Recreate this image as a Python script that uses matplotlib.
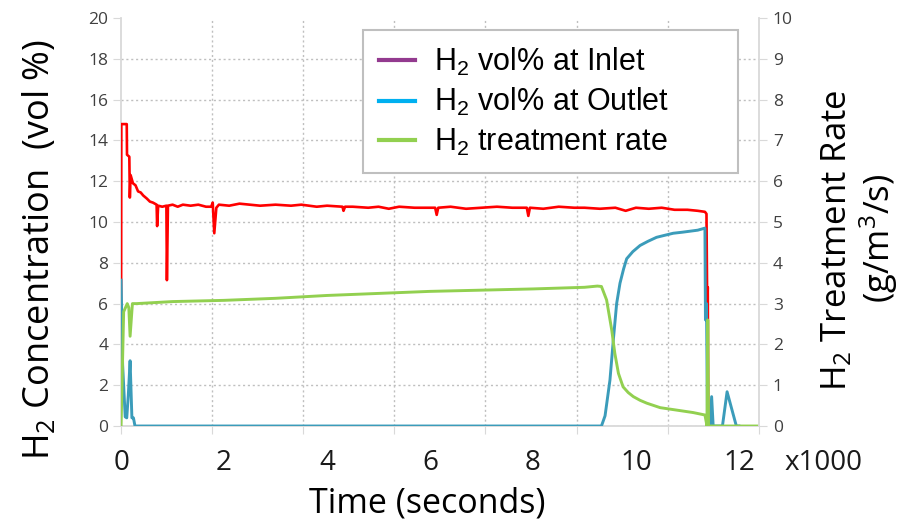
import numpy as np
import matplotlib
matplotlib.use('Agg')
import matplotlib.pyplot as plt
import matplotlib.transforms as mtransforms
from matplotlib.lines import Line2D

plt.rcParams['font.family'] = ['Open Sans', 'DejaVu Sans']
plt.rcParams['mathtext.default'] = 'regular'

# H2 at inlet (vol %), time in seconds
inlet_t = [0, 0, 5, 110, 115, 160, 170, 185, 230, 280, 330, 380, 430, 500, 560,
           620, 690, 700, 720, 800, 880, 890, 910, 1000, 1100, 1200, 1350, 1500,
           1650, 1750, 1780, 1810, 1850, 1900, 2100, 2300, 2500, 2700, 3000,
           3300, 3500, 3800, 4000, 4300, 4320, 4350, 4500, 4800, 5000, 5200,
           5400, 5700, 6100, 6130, 6160, 6400, 6700, 7000, 7300, 7600, 7880,
           7910, 7940, 8200, 8500, 8800, 9000, 9300, 9600, 9800, 10000, 10250,
           10500, 10750, 11000, 11200, 11340, 11370, 11385, 11395, 11405, 11420]
inlet_v = [4.6, 4.6, 14.8, 14.8, 13.3, 13.2, 11.2, 12.3, 11.9, 11.8, 11.5, 11.45,
           11.3, 11.15, 11.0, 10.95, 10.85, 9.8, 10.8, 10.75, 10.8, 7.15, 10.8,
           10.85, 10.75, 10.85, 10.8, 10.85, 10.75, 10.75, 10.95, 9.45, 10.7,
           10.85, 10.8, 10.9, 10.85, 10.8, 10.85, 10.8, 10.85, 10.75, 10.8,
           10.75, 10.55, 10.75, 10.75, 10.7, 10.75, 10.65, 10.75, 10.7, 10.7,
           10.35, 10.7, 10.75, 10.65, 10.7, 10.75, 10.7, 10.7, 10.3, 10.7, 10.65,
           10.75, 10.7, 10.7, 10.65, 10.7, 10.55, 10.7, 10.65, 10.7, 10.6, 10.6,
           10.55, 10.5, 10.4, 5.5, 6.8, 0, 0]

# H2 at outlet (vol %)
outlet_t = [0, 30, 80, 110, 140, 175, 210, 240, 270, 9330, 9400, 9495, 9560,
            9625, 9690, 9760, 9820, 9940, 10080, 10230, 10400, 10560, 10725,
            10900, 11050, 11200, 11340, 11350, 11370, 11390, 11440, 11470,
            11500, 11680, 11770, 11950, 12000]
outlet_v = [7.15, 3.0, 0.45, 0.4, 1.5, 3.2, 0.4, 0.4, 0, 0, 0.5, 2.25, 4.2,
            6.0, 7.0, 7.7, 8.2, 8.55, 8.85, 9.05, 9.25, 9.35, 9.45, 9.5, 9.55,
            9.6, 9.7, 5.2, 6.0, 0, 0, 1.44, 0, 0, 1.68, 0, 0]

# H2 treatment rate (g/m3/s)
rate_t = [0, 50, 120, 150, 175, 220, 300, 1000, 2000, 3000, 4000, 5000, 6000,
          7000, 8000, 9000, 9250, 9330, 9430, 9530, 9590, 9660, 9750, 9850,
          9950, 10080, 10210, 10470, 10790, 11110, 11340, 11380, 11395, 11410,
          12390]
rate_v = [0, 2.8, 3.0, 2.9, 2.2, 3.0, 3.0, 3.05, 3.08, 3.13, 3.2, 3.25, 3.3,
          3.33, 3.36, 3.4, 3.43, 3.42, 3.09, 2.35, 1.78, 1.29, 0.96, 0.82,
          0.72, 0.63, 0.56, 0.45, 0.39, 0.33, 0.27, 0.0, 2.6, 0, 0]

xtick_labels = ['0', '2', '4', '6', '8', '10', '12']
xtick_pos = [0, 2000, 4000, 6000, 8000, 10000, 12000]

fig = plt.figure(figsize=(9.08, 5.24), dpi=100)
ax = fig.add_axes([0.1329, 0.187, 0.703, 0.7786])
ax2 = ax.twinx()

xmin, xmax = -8, 12390
ax.set_xlim(xmin, xmax)
ax.set_ylim(0, 20)
ax2.set_ylim(0, 10)

ax.plot(inlet_t, inlet_v, color='#ff0000', lw=1.9, zorder=3)
ax.plot(outlet_t, outlet_v, color='#3b9cba', lw=2.1, zorder=4)
ax2.plot(rate_t, rate_v, color='#92d050', lw=2.1)

gridc = '#bfbfbf'
spinec = '#d9d9d9'
ax.set_xticks(np.linspace(xmin, xmax, 8))
ax.set_xticklabels([])
ax.set_yticks(np.arange(0, 21, 2))
ax2.set_yticks(np.arange(0, 11, 1))
ax.grid(True, color=gridc, linestyle=(0, (1.5, 2)), lw=1)
ax.yaxis.get_gridlines()[-1].set_visible(False)
ax.xaxis.get_gridlines()[-1].set_visible(False)
ax.xaxis.get_gridlines()[0].set_visible(False)

for a in (ax, ax2):
    a.spines['top'].set_visible(False)
    for s in a.spines.values():
        s.set_color(spinec)
        s.set_linewidth(1.3)
ax.spines['right'].set_visible(False)
ax2.spines['left'].set_visible(False)
ax2.spines['bottom'].set_visible(False)

ax.tick_params(axis='y', colors=spinec, labelcolor='#404040', labelsize=12.5,
               length=6, pad=3)
ax.tick_params(axis='x', colors=spinec, length=6)
ax2.tick_params(axis='y', colors=spinec, labelcolor='#404040', labelsize=12.5,
                length=6, pad=4)

# x tick labels
trans = mtransforms.blended_transform_factory(ax.transData, ax.transAxes)
for pos, lab in zip(xtick_pos, xtick_labels):
    ax.text(pos, -0.09, lab, transform=trans, ha='center', va='center',
            fontsize=20, color='#1a1a1a')
fig.text(823 / 908, 1 - 463 / 524, 'x1000', ha='center', va='center',
         fontsize=20, color='#1a1a1a')

fig.text(427 / 908, 1 - 503 / 524, 'Time (seconds)', ha='center', va='center',
         fontsize=24.5)
fig.text(40 / 908, 1 - 250 / 524, 'H$_2$ Concentration  (vol %)',
         rotation=90, ha='center', va='center', fontsize=26)
fig.text(837 / 908, 1 - 240 / 524, 'H$_2$ Treatment Rate',
         rotation=90, ha='center', va='center', fontsize=25)
fig.text(879 / 908, 1 - 238 / 524, '(g/m$^3$/s)',
         rotation=90, ha='center', va='center', fontsize=25)

handles = [Line2D([], [], color='#933a8f', lw=3),
           Line2D([], [], color='#00b0f0', lw=3),
           Line2D([], [], color='#92d050', lw=3)]
labels = ['H$_2$ vol% at Inlet', 'H$_2$ vol% at Outlet', 'H$_2$ treatment rate']
leg = ax2.legend(handles, labels, loc='upper left',
                 bbox_to_anchor=(0.38, 0.64, 0.587, 0.33), mode='expand',
                 borderaxespad=0,
                 prop={'family': 'Liberation Sans', 'size': 22}, fancybox=False,
                 edgecolor='#bfbfbf', framealpha=1, handlelength=1.2,
                 handletextpad=0.6, labelspacing=0.28, borderpad=0.5)
leg.get_frame().set_linewidth(1.5)

fig.savefig('out.png', dpi=100)
